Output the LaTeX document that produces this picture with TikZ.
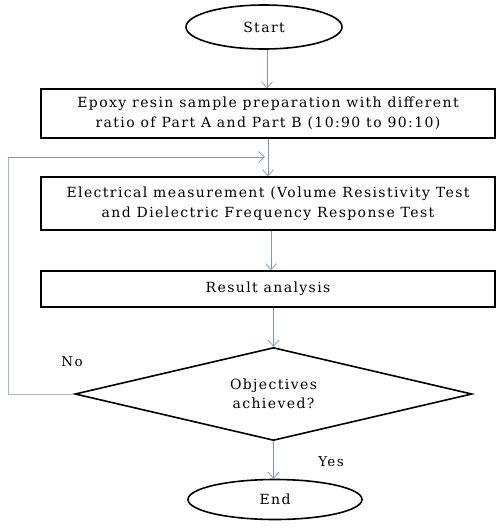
\documentclass[tikz,border=0pt]{standalone}
\usepackage{fontspec}
\setmainfont{DejaVu Serif}[LetterSpace=10]
\usetikzlibrary{shapes.geometric,arrows.meta}
\definecolor{arrc}{HTML}{7F92C4}
\definecolor{fbc}{HTML}{A9B5CE}
\begin{document}
\begin{tikzpicture}[x=1pt,y=-1pt,
  every node/.style={font=\fontsize{14}{19.5}\selectfont, align=center, inner sep=0pt},
  term/.style={draw=black, line width=1.6pt, ellipse},
  procbox/.style={draw=black, line width=1.6pt, rectangle, minimum width=454pt},
  decision/.style={draw=black, line width=1.6pt, diamond, aspect=4.27, minimum width=397pt, minimum height=93pt},
  arr/.style={draw=arrc, line width=0.7pt, -{Straight Barb[length=6pt,width=11pt]}},
  fb/.style={draw=fbc, line width=0.7pt},
  lbl/.style={font=\fontsize{13.5}{15}\selectfont}]
\useasboundingbox (0,0) rectangle (496,528);
\node[term, minimum width=156pt, minimum height=44pt] (start) at (264,27) {Start};
\node[procbox, minimum height=49pt] (box1) at (268,113.5) {Epoxy resin sample preparation with different\\ratio of Part A and Part B (10:90 to 90:10)};
\node[procbox, minimum height=53pt] (box2) at (268,203.5) {Electrical measurement (Volume Resistivity Test\\and Dielectric Frequency Response Test};
\node[procbox, minimum height=36pt] (box3) at (268,289) {Result analysis};
\node[decision] (dia) at (273.5,394) {Objectives\\achieved?};
\node[term, minimum width=174pt, minimum height=40pt] (end) at (275,499.5) {End};
\node[lbl] (no) at (72,362) {No};
\node[lbl] (yes) at (331,462) {Yes};
\coordinate (a1) at (267,50);
\coordinate (fbin) at (268,157);
\coordinate (fbl) at (8,394);
\draw[arr] (start.south -| a1) -- (box1.north -| a1);
\draw[arr] (box1.south -| fbin) -- (box2.north -| fbin);
\draw[arr] ([xshift=3pt]box2.south) -- ([xshift=3pt]box3.north);
\draw[arr] (box3.south -| dia.north) -- (dia.north);
\draw[arr] (dia.south) -- (end.north -| dia.south);
\draw[fb] (dia.west) -- (fbl) -- (fbl |- fbin);
\draw[fb, -{Straight Barb[length=6pt,width=11pt]}, draw=arrc] (fbl |- fbin) -- ([xshift=-3pt]fbin);
\end{tikzpicture}
\end{document}
